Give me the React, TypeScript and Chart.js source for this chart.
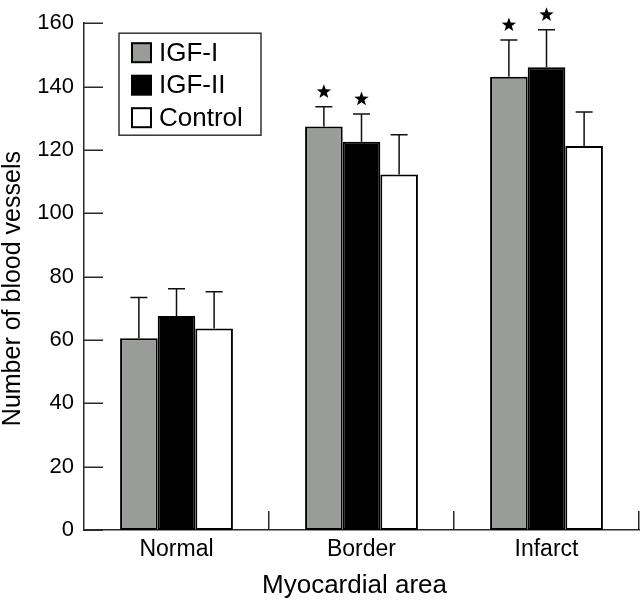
import React, { useEffect, useRef } from 'react';
import { Chart, registerables } from 'chart.js';

Chart.register(...registerables);

const categories = ['Normal', 'Border', 'Infarct'];
const seriesNames = ['IGF-I', 'IGF-II', 'Control'];
const igf1Values = [60.5, 127.4, 143.1];
const igf2Values = [67.6, 122.6, 146.1];
const controlValues = [63.6, 112.2, 121.2];
const igf1Errors = [12.9, 6.2, 11.6];
const igf2Errors = [8.6, 8.7, 11.8];
const controlErrors = [11.6, 12.6, 10.8];
const igf1Significant = [false, true, true];
const igf2Significant = [false, true, true];
const controlSignificant = [false, false, false];
const yMin = 0;
const yMax = 160;
const yStep = 20;
const yTitle = 'Number of blood vessels';
const xTitle = 'Myocardial area';

const FONT = "'Liberation Sans', Arial, Helvetica, sans-serif";
const AXIS = '#2a2a2a';
const GRAY = '#9a9c9a';
const fills = [GRAY, '#000000', '#ffffff'];
const errorSets = [igf1Errors, igf2Errors, controlErrors];
const starSets = [igf1Significant, igf2Significant, controlSignificant];

function drawStar(ctx: CanvasRenderingContext2D, cx: number, cy: number, R: number, r: number) {
  ctx.beginPath();
  for (let i = 0; i < 10; i++) {
    const rad = i % 2 === 0 ? R : r;
    const a = -Math.PI / 2 + (i * Math.PI) / 5;
    const x = cx + rad * Math.cos(a);
    const y = cy + rad * Math.sin(a);
    if (i === 0) ctx.moveTo(x, y);
    else ctx.lineTo(x, y);
  }
  ctx.closePath();
  ctx.fill();
}

const decorPlugin = {
  id: 'decor',
  afterDatasetsDraw(chart: any) {
    const ctx = chart.ctx as CanvasRenderingContext2D;
    const yScale = chart.scales.y;
    ctx.save();
    chart.data.datasets.forEach((ds: any, di: number) => {
      const meta = chart.getDatasetMeta(di);
      meta.data.forEach((bar: any, i: number) => {
        const v = ds.data[i] as number;
        const e = errorSets[di][i];
        const yTop = yScale.getPixelForValue(v + e);
        const yBar = bar.y;
        ctx.strokeStyle = '#111';
        ctx.lineWidth = 1.5;
        ctx.beginPath();
        ctx.moveTo(bar.x, yBar);
        ctx.lineTo(bar.x, yTop);
        ctx.moveTo(bar.x - 8.5, yTop);
        ctx.lineTo(bar.x + 8.5, yTop);
        ctx.stroke();
        if (starSets[di][i]) {
          ctx.fillStyle = '#000';
          drawStar(ctx, bar.x, yTop - 15, 7.5, 3.1);
        }
      });
    });
    ctx.restore();
  },
  afterDraw(chart: any) {
    const ctx = chart.ctx as CanvasRenderingContext2D;
    const { left, right, top, bottom } = chart.chartArea;
    const xScale = chart.scales.x;
    const yScale = chart.scales.y;
    ctx.save();
    ctx.strokeStyle = AXIS;
    ctx.lineWidth = 1.5;
    // y ticks (inward)
    ctx.beginPath();
    yScale.ticks.forEach((t: any) => {
      const y = Math.round(yScale.getPixelForValue(t.value)) + 0.25;
      ctx.moveTo(left, y);
      ctx.lineTo(left + 19, y);
    });
    // x ticks at category boundaries (inward)
    const n = chart.data.labels.length;
    for (let i = 1; i <= n; i++) {
      const x = Math.round(xScale.getPixelForValue(i - 0.5)) - 0.25;
      ctx.moveTo(x, bottom);
      ctx.lineTo(x, bottom - 19);
    }
    ctx.stroke();

    // axis titles
    ctx.fillStyle = '#000';
    ctx.textAlign = 'center';
    ctx.textBaseline = 'middle';
    ctx.font = `26px ${FONT}`;
    ctx.fillText(xTitle, (left + right) / 2 - 7, 586);
    ctx.save();
    ctx.translate(13, (top + bottom) / 2 + 12);
    ctx.rotate(-Math.PI / 2);
    ctx.font = `25px ${FONT}`;
    ctx.fillText(yTitle, 0, 0);
    ctx.restore();

    // legend
    const lx = left + 35;
    const ly = top + 10;
    ctx.lineWidth = 1.5;
    ctx.strokeStyle = '#333';
    ctx.strokeRect(lx, ly, 142, 102);
    ctx.font = `26px ${FONT}`;
    ctx.textBaseline = 'middle';
    ctx.textAlign = 'left';
    seriesNames.forEach((name, i) => {
      const sy = ly + 10 + i * 32.5;
      ctx.fillStyle = fills[i];
      ctx.fillRect(lx + 13, sy, 19, 19);
      ctx.strokeStyle = '#000';
      ctx.lineWidth = 2;
      ctx.strokeRect(lx + 13, sy, 19, 19);
      ctx.fillStyle = '#000';
      ctx.fillText(name, lx + 40, sy + 10.5);
    });
    ctx.restore();
  },
};

export default function App() {
  const ref = useRef<HTMLCanvasElement | null>(null);
  useEffect(() => {
    document.body.style.margin = '0';
    const canvas = ref.current;
    if (!canvas) return;
    const seriesValues = [igf1Values, igf2Values, controlValues];
    const chart = new Chart(canvas, {
      type: 'bar',
      data: {
        labels: categories,
        datasets: seriesNames.map((name, i) => ({
          label: name,
          data: seriesValues[i],
          backgroundColor: fills[i],
          borderColor: '#000',
          borderWidth: 2,
          borderSkipped: false,
          barPercentage: 1,
          categoryPercentage: 0.61,
        })),
      },
      options: {
        responsive: false,
        animation: false,
        devicePixelRatio: 1,
        layout: { padding: { top: 15, right: 1, left: 0, bottom: 0 } },
        plugins: {
          legend: { display: false },
          tooltip: { enabled: false },
        },
        scales: {
          x: {
            grid: { display: false, drawTicks: false },
            border: { display: true, color: AXIS, width: 1.5 },
            ticks: {
              color: '#000',
              font: { family: FONT, size: 23 },
              padding: 6,
            },
            title: { display: false },
            afterFit: (s: any) => {
              s.height = 72;
            },
          },
          y: {
            min: yMin,
            max: yMax,
            grid: { display: false, drawTicks: false },
            border: { display: true, color: AXIS, width: 1.5 },
            ticks: {
              stepSize: yStep,
              color: '#000',
              font: { family: FONT, size: 22 },
              padding: 10,
            },
            title: { display: false },
            afterFit: (s: any) => {
              s.width = 84;
            },
          },
        },
      },
      plugins: [decorPlugin],
    });
    return () => chart.destroy();
  }, []);
  return (
    <div style={{ width: 640, height: 602, background: '#fff' }}>
      <canvas ref={ref} width={640} height={602} />
    </div>
  );
}
